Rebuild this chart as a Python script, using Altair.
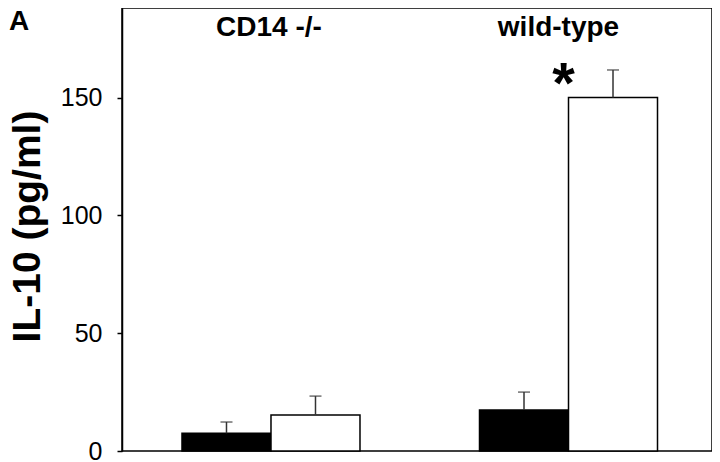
import altair as alt
import pandas as pd

groups = ["CD14 -/-", "CD14 -/-", "wild-type", "wild-type"]
treatments = ["control", "stimulated", "control", "stimulated"]
means = [7.5, 15.3, 17.4, 150.0]
uppers = [12.3, 23.3, 25.0, 161.7]

label_groups = ["CD14 -/-", "wild-type"]
label_y = [176, 176]
star_group = ["wild-type"]
star_y = [147.5]
y_ticks = [0, 50, 100, 150]

FONT = "Liberation Sans"

df = pd.DataFrame({"group": groups, "treatment": treatments, "mean": means, "upper": uppers})
lab = pd.DataFrame({"group": label_groups, "y": label_y})
star = pd.DataFrame({"group": star_group, "y": star_y, "t": ["*"]})
panel = pd.DataFrame({"t": ["A"]})

xscale = alt.Scale(paddingInner=0.4017, paddingOuter=0.1924, align=0.524)
yscale = alt.Scale(domain=[0, 188], nice=False)
xoff = alt.XOffset("treatment:N", scale=alt.Scale(paddingInner=0, paddingOuter=0))
xenc = alt.X("group:N", scale=xscale, axis=None, sort=label_groups)

base = alt.Chart(df).encode(x=xenc, xOffset=xoff)

bars = base.mark_bar(stroke="black", strokeWidth=1.5).encode(
    y=alt.Y(
        "mean:Q",
        scale=yscale,
        axis=alt.Axis(
            values=y_ticks,
            title="IL-10 (pg/ml)",
            titleFont=FONT,
            titleFontSize=39,
            titleFontWeight="bold",
            titleColor="black",
            titlePadding=13,
            titleY=218,
            labelFont=FONT,
            labelFontSize=25,
            labelColor="black",
            labelPadding=15,
            tickSize=5,
            tickColor="black",
            tickWidth=1.5,
            domainColor="black",
            domainWidth=1.5,
            grid=False,
        ),
    ),
    fill=alt.Fill("treatment:N", scale=alt.Scale(range=["black", "white"]), legend=None),
)

err = base.mark_rule(color="#333333", strokeWidth=1.5).encode(
    y=alt.Y("mean:Q", scale=yscale), y2="upper:Q"
)

caps = base.mark_tick(color="#333333", size=12, thickness=1.5, orient="horizontal").encode(
    y=alt.Y("upper:Q", scale=yscale)
)

label_cd14 = alt.Chart(lab).transform_filter(alt.datum.group == "CD14 -/-").mark_text(
    font=FONT, fontSize=28, fontWeight="bold", color="black", baseline="alphabetic", dx=-2
).encode(x=xenc, y=alt.Y("y:Q", scale=yscale), text="group:N")

label_wt = alt.Chart(lab).transform_filter(alt.datum.group == "wild-type").mark_text(
    font=FONT, fontSize=28, fontWeight="bold", color="black", baseline="alphabetic", dx=-10
).encode(x=xenc, y=alt.Y("y:Q", scale=yscale), text="group:N")

star_mark = alt.Chart(star).mark_text(
    font=FONT, fontSize=58, fontWeight="bold", color="black", baseline="alphabetic", dx=-5
).encode(x=xenc, y=alt.Y("y:Q", scale=yscale), text="t:N")

panel_label = alt.Chart(panel).mark_text(
    font=FONT, fontSize=28, fontWeight="bold", color="black", align="center", baseline="alphabetic"
).encode(x=alt.value(-103), y=alt.value(22), text="t:N")

chart = alt.layer(bars, err, caps, label_cd14, label_wt, star_mark, panel_label).properties(
    width=590,
    height=443,
    autosize="none",
    padding={"left": 114, "top": 0, "right": 0, "bottom": 12},
).configure_view(stroke="black", strokeWidth=1.5)

chart.save("out.html", embed_options={"renderer": "svg", "actions": False})
